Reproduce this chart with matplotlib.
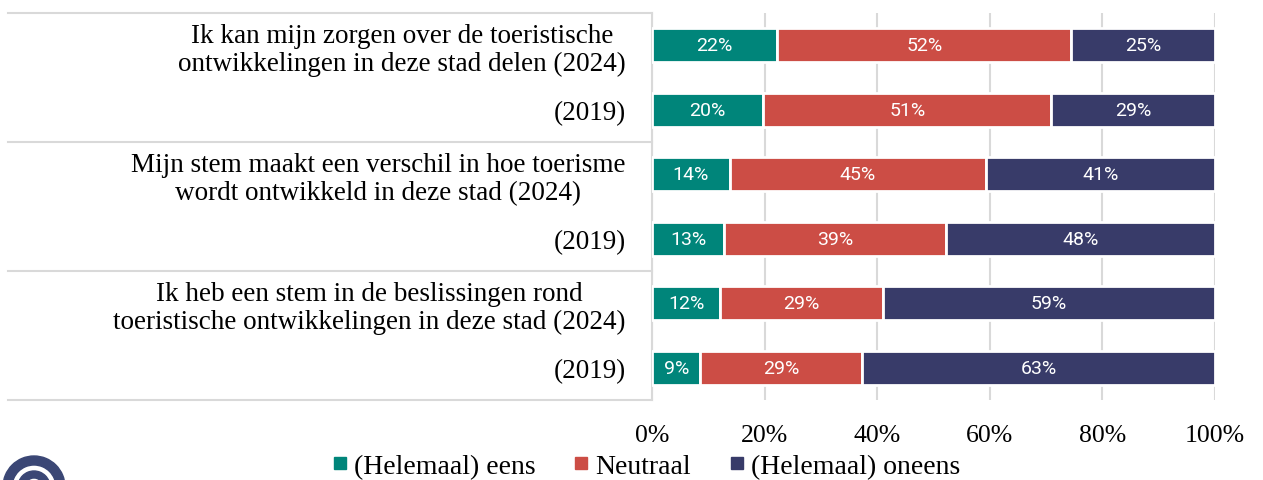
import matplotlib
matplotlib.use("Agg")
import matplotlib.pyplot as plt
from matplotlib.lines import Line2D
from matplotlib.patches import Wedge
import numpy as np

categories = [
    "Ik kan mijn zorgen over de toeristische\nontwikkelingen in deze stad delen (2024)",
    "(2019)",
    "Mijn stem maakt een verschil in hoe toerisme\nwordt ontwikkeld in deze stad (2024)",
    "(2019)",
    "Ik heb een stem in de beslissingen rond\ntoeristische ontwikkelingen in deze stad (2024)",
    "(2019)",
]
eens = [22.2, 19.8, 13.8, 12.8, 12.1, 8.6]
neutraal = [52.3, 51.1, 45.6, 39.4, 28.9, 28.7]
oneens = [25.5, 29.1, 40.6, 47.8, 59.0, 62.7]
labels_eens = ["22%", "20%", "14%", "13%", "12%", "9%"]
labels_neutraal = ["52%", "51%", "45%", "39%", "29%", "29%"]
labels_oneens = ["25%", "29%", "41%", "48%", "59%", "63%"]
series_names = ["(Helemaal) eens", "Neutraal", "(Helemaal) oneens"]
xticks = [0, 20, 40, 60, 80, 100]
xtick_labels = ["0%", "20%", "40%", "60%", "80%", "100%"]

colors = ["#00857a", "#cc4d45", "#383b69"]
grid_col = "#d9d9d9"
serif = ["Liberation Serif", "DejaVu Serif"]

fig = plt.figure(figsize=(12.63, 4.81), dpi=100)
ax = fig.add_axes([652/1263, 1-401/481, 563/1263, 387/481])

y = np.arange(len(categories))
left = np.zeros(len(categories))
all_labels = [labels_eens, labels_neutraal, labels_oneens]
for vals, col, name, labs in zip([eens, neutraal, oneens], colors, series_names, all_labels):
    ax.barh(y, vals, left=left, height=0.52, color=col, edgecolor="white",
            linewidth=2, label=name, zorder=3)
    for yi, l, v, lab in zip(y, left, vals, labs):
        ax.text(l + v/2, yi, lab, ha="center", va="center", color="white",
                fontsize=14, family="Roboto", zorder=4)
    left = left + np.array(vals)

ax.set_xlim(0, 100)
ax.set_ylim(len(categories)-0.5, -0.5)
ax.set_xticks(xticks)
ax.set_xticklabels(xtick_labels, family=serif, fontsize=18.5)
ax.tick_params(axis="x", length=0, pad=17)
ax.set_yticks(y)
ax.set_yticklabels(categories, family=serif, fontsize=19.5, multialignment="center")
ax.tick_params(axis="y", length=0, pad=19)
for lab in ax.get_yticklabels():
    lab.set_linespacing(1.15)

for s in ["top", "right", "bottom"]:
    ax.spines[s].set_visible(False)
ax.spines["left"].set_color(grid_col)
ax.spines["left"].set_linewidth(1.5)
ax.xaxis.grid(True, color=grid_col, linewidth=1.5, zorder=0)
ax.set_axisbelow(True)

# group separators in label area
for yy in [-0.5, 1.5, 3.5, 5.5]:
    ax.add_line(Line2D([-644/563*100, 0], [yy, yy], color=grid_col, linewidth=1.5,
                       clip_on=False, transform=ax.transData))

# legend
handles = [Line2D([], [], marker="s", linestyle="none", markersize=8,
                  markerfacecolor=c, markeredgecolor=c) for c in colors]
fig.legend(handles, series_names, loc="center", bbox_to_anchor=(645/1263, 1-467/481),
           ncol=3, frameon=False, prop={"family": serif, "size": 20},
           handletextpad=0.15, columnspacing=1.3, handlelength=0.7)

# partial logo bottom-left
logo_col = "#3b4775"
ax_logo = fig.add_axes([0, 0, 1, 1], zorder=-1)
ax_logo.set_xlim(0, 1263)
ax_logo.set_ylim(481, 0)
ax_logo.axis("off")
ax_logo.add_patch(Wedge((34, 488), 31, 0, 360, width=9, color=logo_col))
ax_logo.add_patch(Wedge((34, 488), 16, 0, 360, width=7, color=logo_col))

fig.savefig("out.png", dpi=100)
